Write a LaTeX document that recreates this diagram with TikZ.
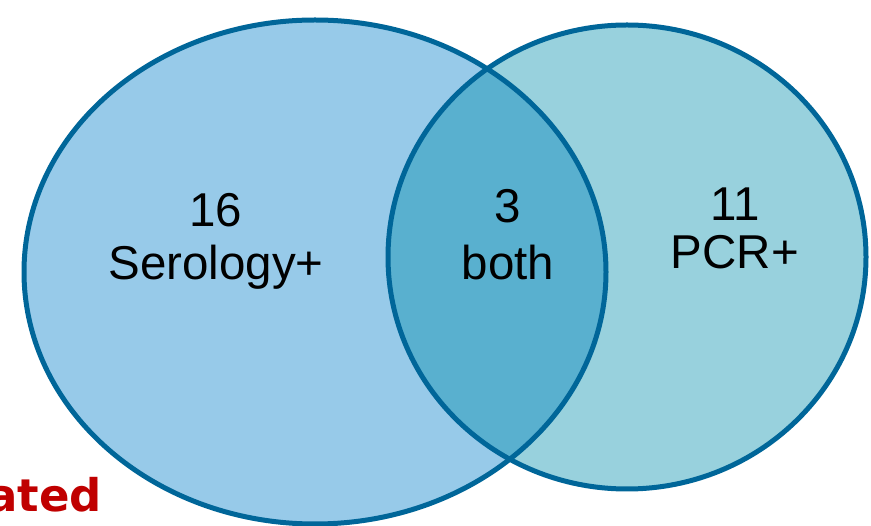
\documentclass[tikz,border=0pt]{standalone}
\usepackage{fontspec}
\setmainfont{Liberation Sans}
\newfontfamily\redfont{DejaVu Sans}
\definecolor{leftfill}{HTML}{97CAE9}
\definecolor{rightfill}{HTML}{98D1DD}
\definecolor{bothfill}{HTML}{59B0CF}
\definecolor{rim}{HTML}{006699}
\definecolor{darkred}{HTML}{C00000}
\tikzset{
  lbl/.style={font=\fontsize{47.5}{53}\selectfont, inner sep=0pt, anchor=base, text=black},
  rim line/.style={draw=rim, line width=5pt},
}
\begin{document}
\begin{tikzpicture}[x=1pt,y=-1pt]
\useasboundingbox (0,0) rectangle (871,526);
\fill[leftfill] (315,272) ellipse [x radius=291, y radius=252];
\fill[rightfill] (627,257) ellipse [x radius=239, y radius=232];
\begin{scope}
  \clip (315,272) ellipse [x radius=291, y radius=252];
  \fill[bothfill] (627,257) ellipse [x radius=239, y radius=232];
\end{scope}
\draw[rim line] (315,272) ellipse [x radius=291, y radius=252];
\draw[rim line] (627,257) ellipse [x radius=239, y radius=232];
\node[lbl] (n16) at (216,227) {16};
\node[lbl] (sero) at (216,280) {Serology+};
\node[lbl] (n3) at (508,223) {3};
\node[lbl] (both) at (508,280) {both};
\node[lbl] (n11) at (735,221) {11};
\node[lbl] (pcr) at (735,269) {PCR+};
\node[font=\redfont\bfseries\fontsize{45}{52}\selectfont, text=darkred, inner sep=0pt, anchor=base east] (ated) at (102,512) {ated};
\end{tikzpicture}
\end{document}
